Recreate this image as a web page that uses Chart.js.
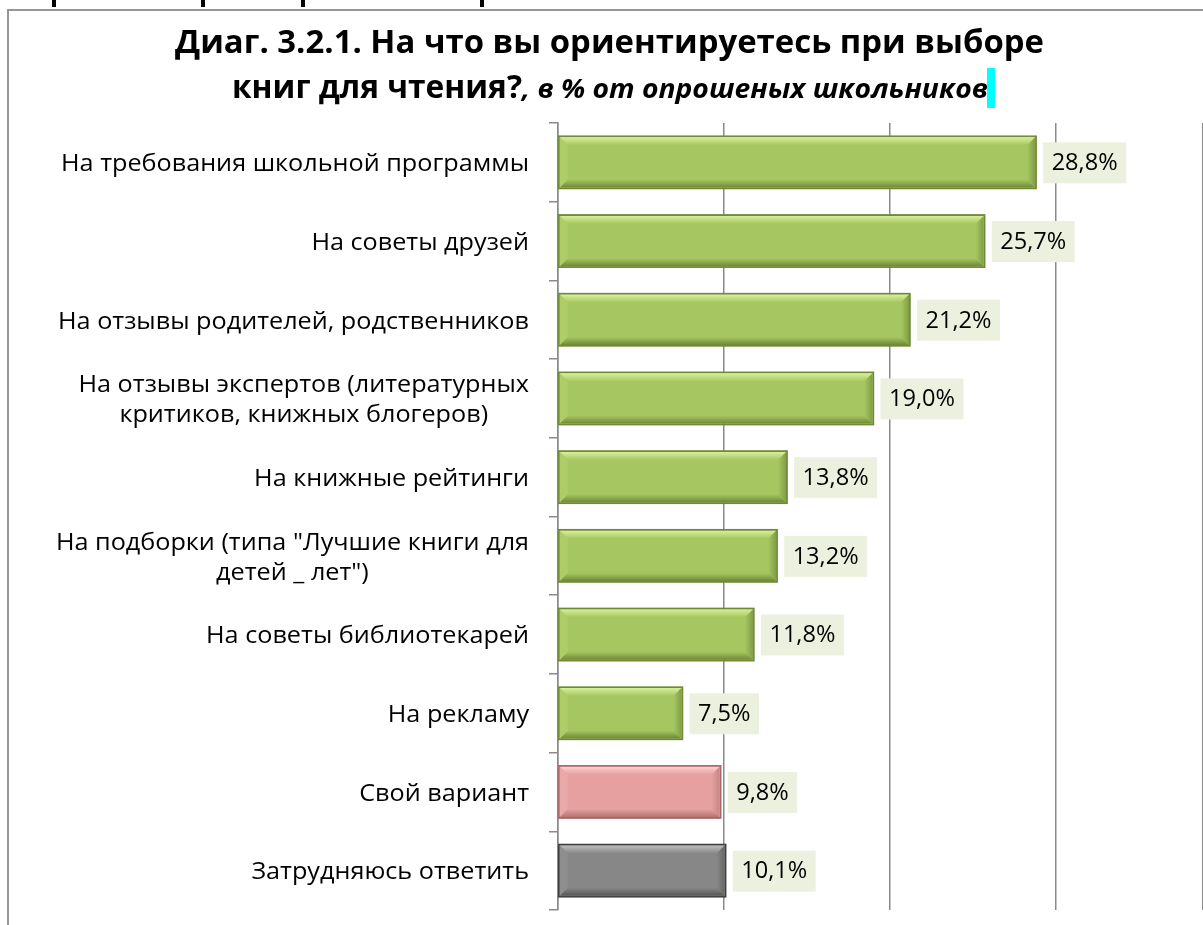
<!DOCTYPE html>
<html>
<head>
<meta charset="utf-8">
<script src="https://cdn.jsdelivr.net/npm/chart.js@4.4.0/dist/chart.umd.min.js"></script>
<style>
html, body { margin: 0; padding: 0; background: #fff; overflow: hidden; width: 1203px; height: 925px; }
#frame { position: absolute; left: 7px; top: 9px; width: 1300px; height: 1000px; border: 2px solid #969696; box-sizing: border-box; }
.stub { position: absolute; top: 0; width: 4px; height: 7px; background: #000; }
canvas { position: absolute; left: 0; top: 0; }
</style>
</head>
<body>
<!-- хвосты букв заголовка страницы, обрезанного сверху -->
<div class="stub" style="left:52px"></div>
<div class="stub" style="left:201px"></div>
<div class="stub" style="left:301px"></div>
<div class="stub" style="left:480px"></div>
<div id="frame"></div>
<canvas id="chart" width="1203" height="925"></canvas>
<script>
// --- Данные ---
const categories = [
    ['На требования школьной программы'],
    ['На советы друзей'],
    ['На отзывы родителей, родственников'],
    ['На отзывы экспертов (литературных', 'критиков, книжных блогеров)'],
    ['На книжные рейтинги'],
    ['На подборки (типа "Лучшие книги для', 'детей _ лет")'],
    ['На советы библиотекарей'],
    ['На рекламу'],
    ['Свой вариант'],
    ['Затрудняюсь ответить']
];
const shares = [28.8, 25.7, 21.2, 19.0, 13.8, 13.2, 11.8, 7.5, 9.8, 10.1];
const titleLine1 = 'Диаг. 3.2.1. На что вы ориентируетесь при выборе';
const titleLine2Bold = 'книг для чтения?';
const titleLine2Italic = ', в % от опрошеных школьников';

// --- Стили ---
const FONT = '"Open Sans", "Noto Sans", sans-serif';
const palette = {
    green: { face: '#a6c661', top: '#d6f09a', left: '#aecd69', bottom: '#6f8a37', right: '#819e46', edge: '#6f8a37' },
    pink:  { face: '#e5a09f', top: '#fbd0cf', left: '#e9a9a8', bottom: '#b57473', right: '#c78584', edge: '#a56867' },
    gray:  { face: '#878787', top: '#bdbdbd', left: '#8e8e8e', bottom: '#555555', right: '#666666', edge: '#404040' }
};
const barKinds = ['green', 'green', 'green', 'green', 'green', 'green', 'green', 'green', 'pink', 'gray'];

function fmt(v) {
    return v.toFixed(1).replace('.', ',') + '%';
}

// текст, сжатый по ширине (имитация узкого Calibri)
function fitText(ctx, text, x, y, sx, align) {
    ctx.save();
    ctx.translate(x, y);
    ctx.scale(sx, 1);
    ctx.textAlign = align;
    ctx.fillText(text, 0, 0);
    ctx.restore();
}

// --- Плагин: объёмные грани столбцов ---
const bevelPlugin = {
    id: 'bevel',
    afterDatasetsDraw(chart) {
        const ctx = chart.ctx;
        const meta = chart.getDatasetMeta(0);
        meta.data.forEach((bar, i) => {
            const p = bar.getProps(['x', 'y', 'base', 'height'], true);
            const c = palette[barKinds[i]];
            const x0 = p.base + 1, x1 = p.x - 1;
            const y0 = p.y - p.height / 2 + 1, y1 = p.y + p.height / 2 - 1;
            const b = 8;
            const poly = (pts, color) => {
                ctx.beginPath();
                ctx.moveTo(pts[0][0], pts[0][1]);
                pts.slice(1).forEach(q => ctx.lineTo(q[0], q[1]));
                ctx.closePath();
                ctx.fillStyle = color;
                ctx.fill();
            };
            ctx.save();
            const gt = ctx.createLinearGradient(0, y0, 0, y0 + b);
            gt.addColorStop(0, c.top);
            gt.addColorStop(1, c.face);
            poly([[x0, y0], [x1, y0], [x1 - b, y0 + b], [x0 + b, y0 + b]], gt);
            const gb = ctx.createLinearGradient(0, y1 - b, 0, y1);
            gb.addColorStop(0, c.face);
            gb.addColorStop(1, c.bottom);
            poly([[x0, y1], [x1, y1], [x1 - b, y1 - b], [x0 + b, y1 - b]], gb);
            poly([[x0, y0], [x0 + b, y0 + b], [x0 + b, y1 - b], [x0, y1]], c.left);
            const gr = ctx.createLinearGradient(x1 - b, 0, x1, 0);
            gr.addColorStop(0, c.face);
            gr.addColorStop(1, c.right);
            poly([[x1, y0], [x1 - b, y0 + b], [x1 - b, y1 - b], [x1, y1]], gr);
            ctx.strokeStyle = c.edge;
            ctx.lineWidth = 1.5;
            ctx.strokeRect(p.base, y0 - 1, p.x - p.base, y1 - y0 + 2);
            ctx.restore();
        });
    }
};

// --- Плагин: подписи категорий, значения и заголовок ---
const textPlugin = {
    id: 'texts',
    afterDraw(chart) {
        const ctx = chart.ctx;
        const yScale = chart.scales.y;
        const left = chart.chartArea.left;
        ctx.save();
        ctx.fillStyle = '#000';
        ctx.textBaseline = 'middle';

        // подписи категорий: блок прижат вправо, строки по центру блока
        ctx.font = '24px ' + FONT;
        const sxCat = Math.min(1.1, 468 / ctx.measureText(categories[0][0]).width);
        const lineH = 30;
        categories.forEach((lines, i) => {
            const yc = yScale.getPixelForValue(i) + 2;
            const blockW = Math.max(...lines.map(l => ctx.measureText(l).width)) * sxCat;
            const cx = left - 29 - blockW / 2;
            lines.forEach((l, k) => {
                const y = yc + (k - (lines.length - 1) / 2) * lineH;
                fitText(ctx, l, cx, y, sxCat, 'center');
            });
        });

        // подписи значений на светлой подложке
        ctx.font = '24px ' + FONT;
        const sxVal = Math.min(1.1, 66 / ctx.measureText('28,8%').width);
        const meta = chart.getDatasetMeta(0);
        meta.data.forEach((bar, i) => {
            const p = bar.getProps(['x', 'y'], true);
            const t = fmt(shares[i]);
            const w = ctx.measureText(t).width * sxVal + 17;
            const bx = p.x + 7;
            ctx.fillStyle = '#ebf1de';
            ctx.fillRect(bx, p.y - 20, w, 41);
            ctx.fillStyle = '#000';
            fitText(ctx, t, bx + w / 2, p.y + 1, sxVal, 'center');
        });

        // заголовок
        ctx.textBaseline = 'alphabetic';
        ctx.font = 'bold 33px ' + FONT;
        const sxT1 = 869 / ctx.measureText(titleLine1).width;
        fitText(ctx, titleLine1, 609.5, 53, sxT1, 'center');
        const bw = 290;
        const sxB = bw / ctx.measureText(titleLine2Bold).width;
        fitText(ctx, titleLine2Bold, 232, 98, sxB, 'left');
        ctx.font = 'italic bold 27px ' + FONT;
        const iw = 466;
        const sxI = iw / ctx.measureText(titleLine2Italic).width;
        fitText(ctx, titleLine2Italic, 232 + bw, 98, sxI, 'left');
        // бирюзовый курсор после текста
        ctx.fillStyle = '#00ffff';
        ctx.fillRect(232 + bw + iw - 1, 68, 8, 40);
        ctx.restore();
    }
};

// --- График ---
const ctx = document.getElementById('chart').getContext('2d');
const chart = new Chart(ctx, {
    type: 'bar',
    data: {
        labels: categories,
        datasets: [{
            data: shares,
            backgroundColor: barKinds.map(k => palette[k].face),
            borderColor: barKinds.map(k => palette[k].edge),
            borderWidth: 1,
            categoryPercentage: 1,
            barPercentage: 0.665
        }]
    },
    options: {
        indexAxis: 'y',
        responsive: false,
        animation: false,
        layout: { padding: { left: 548, right: 0, top: 123, bottom: 15 } },
        plugins: {
            legend: { display: false },
            title: { display: false },
            tooltip: { enabled: false }
        },
        scales: {
            x: {
                min: 0,
                max: 38.85,
                ticks: { display: false, stepSize: 10 },
                grid: { color: '#8a8a8a', lineWidth: 1.5, drawTicks: false },
                border: { display: false },
                afterFit(scale) { scale.height = 0; }
            },
            y: {
                ticks: { display: false },
                grid: { offset: true, drawOnChartArea: false, drawTicks: true, tickLength: 9, color: '#8a8a8a', lineWidth: 1.5 },
                border: { display: true, color: '#8a8a8a', width: 1.5 },
                afterFit(scale) { scale.width = 10; }
            }
        }
    },
    plugins: [bevelPlugin, textPlugin]
});
</script>
</body>
</html>
